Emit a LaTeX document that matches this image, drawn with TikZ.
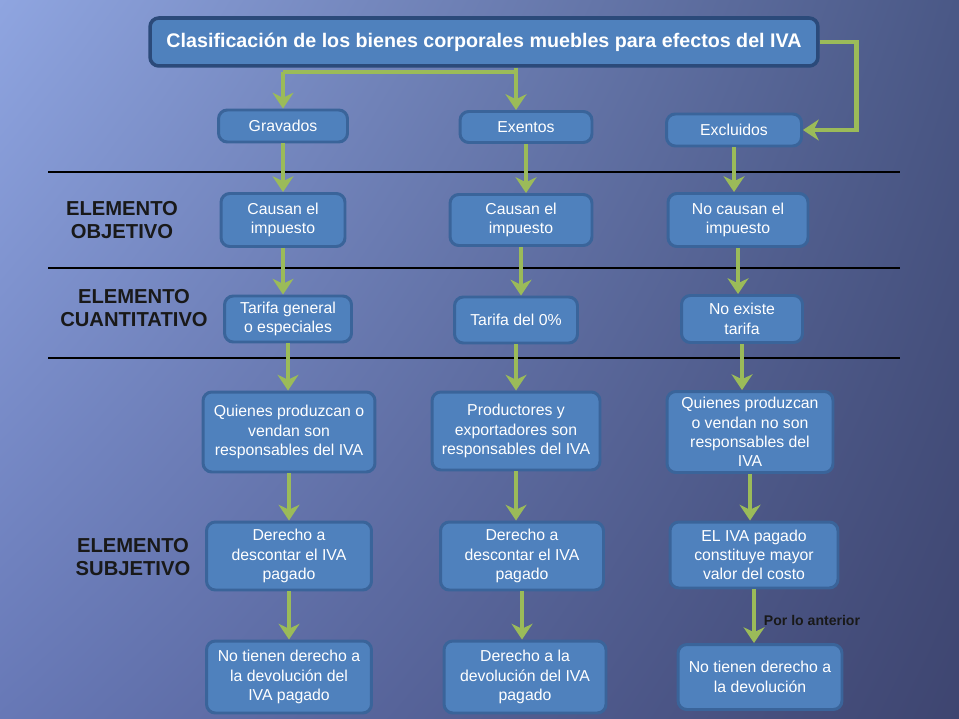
\documentclass[tikz,border=0pt]{standalone}
\usepackage{fontspec}
\setmainfont{Liberation Sans}
\usetikzlibrary{arrows.meta,positioning,shadings}
\definecolor{bgul}{HTML}{8FA5E0}
\definecolor{bgur}{HTML}{4A5886}
\definecolor{bgll}{HTML}{6778B6}
\definecolor{bglr}{HTML}{3E4570}
\definecolor{boxblue}{HTML}{4F81BD}
\definecolor{boxedge}{HTML}{3A649A}
\definecolor{titleedge}{HTML}{2B4A7A}
\definecolor{arrgreen}{HTML}{9BBB59}

\begin{document}
\begin{tikzpicture}[x=0.02cm,y=-0.02cm,
    box/.style={rounded corners=5pt,fill=boxblue,draw=boxedge,line width=1.7pt,align=center,
      text=white,font=\fontsize{9}{11}\selectfont,inner sep=2pt},
    lbl/.style={align=center,text=black!90,font=\fontsize{11.5}{13.5}\selectfont\bfseries},
    flow/.style={-{Stealth[length=9pt,width=12pt]},arrgreen,line width=2.8pt},
    sep/.style={black,line width=0.6pt}]
  % background
  \shade[upper left=bgul,upper right=bgur,lower left=bgll,lower right=bglr] (0,0) rectangle (959,719);
  \foreach \y in {172,268,358}
    \draw[sep] (48,\y) -- (900,\y);

  \node[box,draw=titleedge,line width=2pt,minimum width=13.36cm,minimum height=0.96cm,
    font=\fontsize{11.2}{13}\selectfont\bfseries] (tit) at (484,42)
    {Clasificación de los bienes corporales muebles para efectos del IVA};

  % columns
  \node[box,minimum width=2.58cm,minimum height=0.64cm] (grav) at (283,126) {Gravados};
  \node[box,minimum width=2.64cm,minimum height=0.62cm] (exen) at (526,127) {Exentos};
  \node[box,minimum width=2.7cm,minimum height=0.64cm] (excl) at (734,130) {Excluidos};

  \node[box,minimum width=2.48cm,minimum height=1.06cm] (obj1) at (283,220) {Causan el\\impuesto};
  \node[box,minimum width=2.84cm,minimum height=1.02cm] (obj2) at (521,220) {Causan el\\impuesto};
  \node[box,minimum width=2.8cm,minimum height=1.06cm] (obj3) at (738,220) {No causan el\\impuesto};

  \node[box,minimum width=2.54cm,minimum height=0.92cm] (cua1) at (288,319) {Tarifa general\\o especiales};
  \node[box,minimum width=2.46cm,minimum height=0.92cm] (cua2) at (516,320) {Tarifa del 0\%};
  \node[box,minimum width=2.42cm,minimum height=0.94cm] (cua3) at (742,319) {No existe\\tarifa};

  \node[box,minimum width=3.44cm,minimum height=1.6cm] (suj1) at (289,432)
    {Quienes produzcan o\\vendan son\\responsables del IVA};
  \node[box,minimum width=3.36cm,minimum height=1.56cm] (suj2) at (516,431)
    {Productores y\\exportadores son\\responsables del IVA};
  \node[box,minimum width=3.32cm,minimum height=1.62cm] (suj3) at (750,432)
    {Quienes produzcan\\o vendan no son\\responsables del\\IVA};

  \node[box,minimum width=3.3cm,minimum height=1.36cm] (des1) at (289,556)
    {Derecho a\\descontar el IVA\\pagado};
  \node[box,minimum width=3.26cm,minimum height=1.36cm] (des2) at (522,556)
    {Derecho a\\descontar el IVA\\pagado};
  \node[box,minimum width=3.36cm,minimum height=1.32cm] (des3) at (754,555)
    {EL IVA pagado\\constituye mayor\\valor del costo};

  \node[box,minimum width=3.3cm,minimum height=1.44cm] (dev1) at (289,677)
    {No tienen derecho a\\la devolución del\\IVA pagado};
  \node[box,minimum width=3.24cm,minimum height=1.44cm] (dev2) at (525,677)
    {Derecho a la\\devolución del IVA\\pagado};
  \node[box,minimum width=3.28cm,minimum height=1.3cm] (dev3) at (760,677)
    {No tienen derecho a\\la devolución};

  % row labels
  \node[lbl] (lobj) at (122,220) {ELEMENTO\\OBJETIVO};
  \node[lbl] (lcua) at (134,308) {ELEMENTO\\CUANTITATIVO};
  \node[lbl] (lsuj) at (133,557) {ELEMENTO\\SUBJETIVO};
  \node[font=\fontsize{8}{10}\selectfont\bfseries,text=black!90] (pla) at (812,620) {Por lo anterior};

  % arrows
  \coordinate (split) at (516,72);
  \draw[flow] (split |- tit.south) -- (split |- exen.north);
  \draw[flow,-] (split) -- (split -| grav.north);
  \draw[flow] (split -| grav.north) -- (grav.north);
  \draw[flow] (tit.east) -- ++(37,0) |- (excl.east);
  \foreach \a/\b in {grav/obj1,obj1/cua1,cua1/suj1,suj1/des1,des1/dev1,
      exen/obj2,obj2/cua2,cua2/suj2,suj2/des2,des2/dev2,
      excl/obj3,obj3/cua3,cua3/suj3,suj3/des3,des3/dev3}
    \draw[flow] (\a.south) -- (\a.south |- \b.north);
\end{tikzpicture}
\end{document}
